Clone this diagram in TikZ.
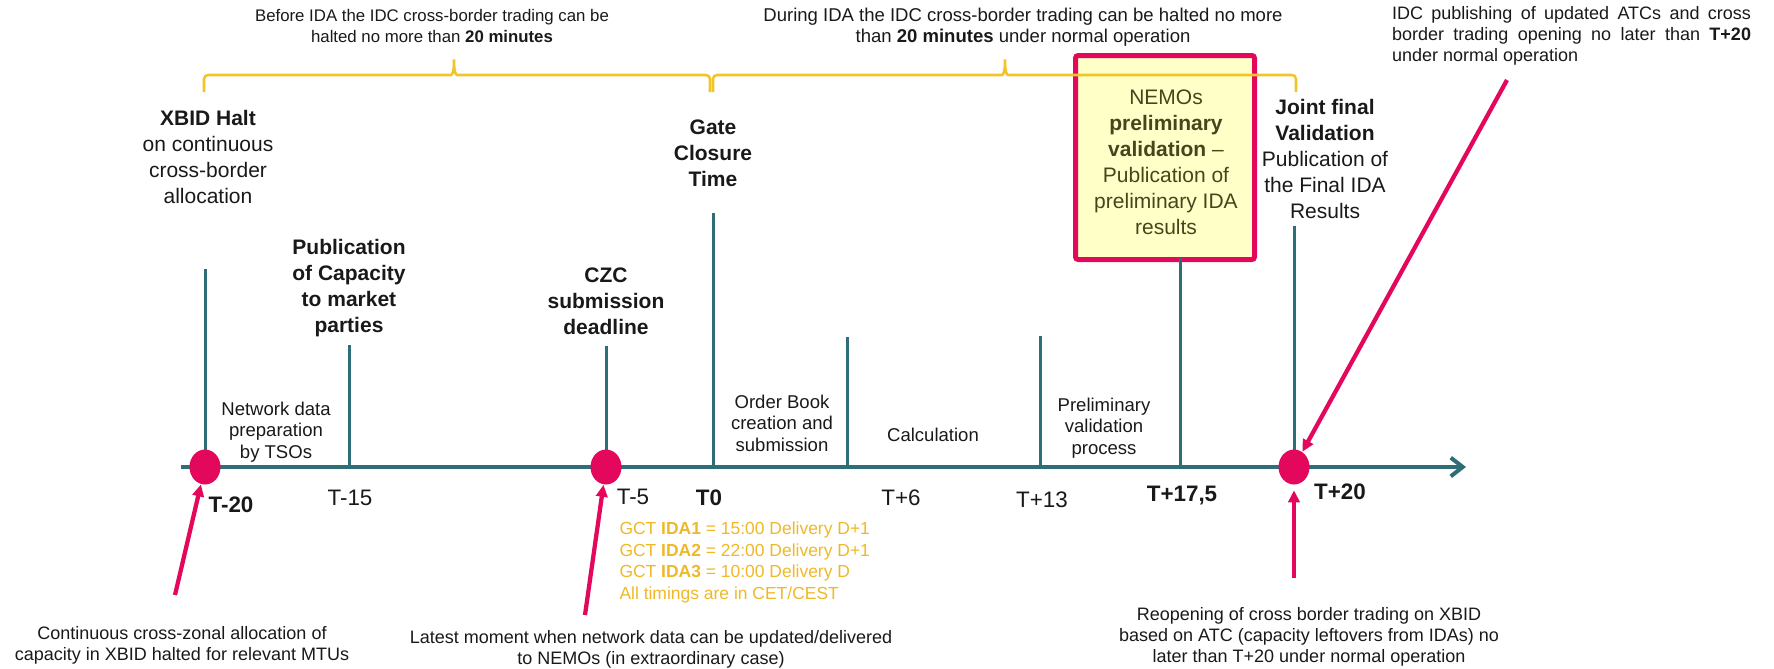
\documentclass[tikz,border=0pt]{standalone}
\usepackage{fontspec}
\setmainfont{Liberation Sans}
\usetikzlibrary{arrows.meta,shapes.geometric}

\tikzset{every picture/.style={line width=0.75pt}}
\tikzset{
	axisline/.style={draw={rgb, 255:red, 46; green, 110; blue, 118}, line width=3pt, -{Straight Barb[length=9pt,width=14pt]}},
	tickline/.style={draw={rgb, 255:red, 46; green, 110; blue, 118}, line width=2.25pt},
	milestone/.style={ellipse, fill={rgb, 255:red, 228; green, 8; blue, 92}, inner sep=0pt, minimum width=23.25pt, minimum height=26.25pt},
	pointer/.style={draw={rgb, 255:red, 228; green, 8; blue, 92}, line width=3.2pt, -{Triangle[length=9pt,width=8.5pt]}},
	bracket/.style={draw={rgb, 255:red, 242; green, 196; blue, 40}, line width=1.9pt, rounded corners=3pt},
	nemosbox/.style={draw={rgb, 255:red, 228; green, 8; blue, 92}, line width=3.75pt, fill={rgb, 255:red, 255; green, 255; blue, 200}, rounded corners=2pt, inner sep=0pt, minimum width=134.25pt, minimum height=153pt},
	headtext/.style={font=\fontsize{15.75}{19.5}\selectfont, align=center, inner sep=0pt, text={rgb, 255:red, 25; green, 25; blue, 25}},
	boxtext/.style={font=\fontsize{15.75}{19.5}\selectfont, align=center, inner sep=0pt, text={rgb, 255:red, 70; green, 70; blue, 30}},
	phasetext/.style={font=\fontsize{13.9}{16.1}\selectfont, align=center, inner sep=0pt, text={rgb, 255:red, 25; green, 25; blue, 25}},
	ticktext/.style={font=\fontsize{16.8}{19}\selectfont, inner sep=0pt, text={rgb, 255:red, 25; green, 25; blue, 25}},
	notetext/.style={font=\fontsize{13.5}{15.75}\selectfont, align=center, inner sep=0pt, text={rgb, 255:red, 25; green, 25; blue, 25}},
	gcttext/.style={font=\fontsize{13.1}{16.1}\selectfont, align=left, inner sep=0pt, text={rgb, 255:red, 238; green, 184; blue, 40}}
}

\begin{document}
\begin{tikzpicture}[x=0.75pt,y=0.75pt,yscale=-1,xscale=1]
	\useasboundingbox (0,0) rectangle (1774,668);

	%Shape: Rectangle [NEMOs box]
	\node[nemosbox] (nemosbox) at (1165,157.5) {};

	%Brace: before IDA
	\draw[bracket] (204,92) -- (204,75) -- (447,75) .. controls (452,75) and (454,72) .. (454,57) .. controls (454,72) and (456,75) .. (461,75) -- (710,75) -- (710,92);
	%Brace: during IDA
	\draw[bracket] (713,92) -- (713,75) -- (998,75) .. controls (1003,75) and (1005,72) .. (1005,57) .. controls (1005,72) and (1007,75) .. (1012,75) -- (1296,75) -- (1296,92);

	%Time axis
	\coordinate (axisstart) at (181,467);
	\coordinate (axisend) at (1466,467);
	\draw[axisline] (axisstart) -- (axisend);
	%Ticks
	\foreach \xpos/\ytop in {205/269, 349.5/345, 606/346, 713/213, 847.5/337, 1040/336, 1180/258, 1294/226}
		\draw[tickline] (\xpos,467) -- (\xpos,\ytop);

	%Milestones
	\node[milestone] (dotA) at (205,467) {};
	\node[milestone] (dotB) at (606,467) {};
	\node[milestone] (dotC) at (1294,467) {};

	%Pointers
	\coordinate (haltptr) at (175,595);
	\coordinate (latestptr) at (585,615);
	\coordinate (reopenptr) at (1294,578);
	\coordinate (publishptr) at (1507,80);
	\draw[pointer] (haltptr) -- (dotA);
	\draw[pointer] (latestptr) -- (dotB);
	\draw[pointer, shorten >=4pt] (reopenptr) -- (dotC);
	\draw[pointer] (publishptr) -- (dotC);

	% Text Node
	\node[notetext, font=\fontsize{12.6}{15.75}\selectfont] (beforeida) at (432,26) {Before IDA the IDC cross-border trading can be\\halted no more than \textbf{20 minutes}};
	% Text Node
	\node[notetext, font=\fontsize{13.9}{15.75}\selectfont] (duringida) at (1023,27) {During IDA the IDC cross-border trading can be halted no more\\than \textbf{20 minutes} under normal operation};
	% Text Node
	\node[notetext, align=left] (publishnote) at (1571.5,36) {\makebox[269.25pt][s]{IDC publishing of updated ATCs and cross}\\\makebox[269.25pt][s]{border trading opening no later than \textbf{T+20}}\\under normal operation};

	% Text Node
	\node[headtext] (xbidhalt) at (208,157) {\textbf{XBID Halt}\\on continuous\\cross-border\\allocation};
	% Text Node
	\node[headtext] (pubcap) at (349,288) {\textbf{Publication}\\\textbf{of Capacity}\\\textbf{to market}\\\textbf{parties}};
	% Text Node
	\node[headtext] (czc) at (606,301) {\textbf{CZC}\\\textbf{submission}\\\textbf{deadline}};
	% Text Node
	\node[headtext] (gct) at (713,153) {\textbf{Gate}\\\textbf{Closure}\\\textbf{Time}};
	% Text Node
	\node[boxtext] (nemostxt) at (1166,162) {NEMOs\\\textbf{preliminary}\\\textbf{validation} --\\Publication of\\preliminary IDA\\results};
	% Text Node
	\node[headtext] (jointval) at (1325,159) {\textbf{Joint final}\\\textbf{Validation}\\Publication of\\the Final IDA\\Results};

	% Text Node
	\node[phasetext] (netdata) at (276,432) {Network data\\preparation\\by TSOs};
	% Text Node
	\node[phasetext] (orderbook) at (782,423) {Order Book\\creation and\\submission};
	% Text Node
	\node[phasetext] (calc) at (933,435) {Calculation};
	% Text Node
	\node[phasetext] (prelim) at (1104,428) {Preliminary\\validation\\process};

	% Text Node
	\node[ticktext] (tm20) at (231,505) {\textbf{T-20}};
	\node[ticktext] (tm15) at (350,498) {T-15};
	\node[ticktext] (tm5) at (633,497) {T-5};
	\node[ticktext] (t0) at (709,498) {\textbf{T0}};
	\node[ticktext] (tp6) at (901,498) {T+6};
	\node[ticktext] (tp13) at (1042,500) {T+13};
	\node[ticktext] (tp175) at (1182,496) {\textbf{T+17,5}};
	\node[ticktext] (tp20) at (1340,492) {\textbf{T+20}};

	% Text Node
	\node[gcttext, anchor=west] (gctlist) at (619,562.5) {GCT \textbf{IDA1} = 15:00 Delivery D+1\\GCT \textbf{IDA2} = 22:00 Delivery D+1\\GCT \textbf{IDA3} = 10:00 Delivery D\\All timings are in CET/CEST};

	% Text Node
	\node[notetext] (haltnote) at (182,645) {Continuous cross-zonal allocation of\\capacity in XBID halted for relevant MTUs};
	% Text Node
	\node[notetext] (latestnote) at (651,649.5) {Latest moment when network data can be updated/delivered\\to NEMOs (in extraordinary case)};
	% Text Node
	\node[notetext] (reopennote) at (1309,637) {Reopening of cross border trading on XBID\\based on ATC (capacity leftovers from IDAs) no\\later than T+20 under normal operation};

\end{tikzpicture}
\end{document}
